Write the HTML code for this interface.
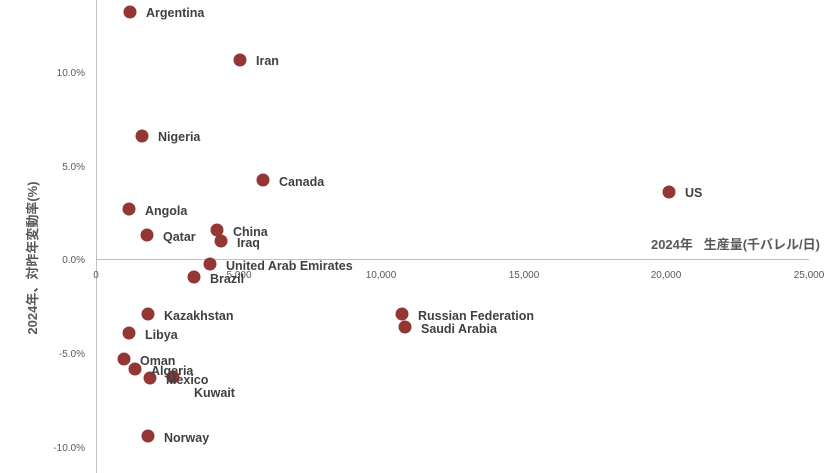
<!DOCTYPE html>
<html><head><meta charset="utf-8"><style>body{margin:0;background:#fff}svg{display:block}</style></head><body>
<svg width="833" height="473" xmlns="http://www.w3.org/2000/svg" font-family="Liberation Sans, Noto Sans CJK JP, sans-serif">
<line x1="96.5" y1="0" x2="96.5" y2="473" stroke="#bfbfbf"/>
<line x1="96" y1="259.5" x2="809" y2="259.5" stroke="#bfbfbf"/>
<g font-size="10" fill="#595959" text-anchor="end">
<text x="85" y="76">10.0%</text><text x="85" y="170">5.0%</text><text x="85" y="263">0.0%</text><text x="85" y="357">-5.0%</text><text x="85" y="451">-10.0%</text>
</g>
<g font-size="10" fill="#595959" text-anchor="middle">
<text x="96" y="278">0</text><text x="239" y="278">5,000</text><text x="381" y="278">10,000</text><text x="524" y="278">15,000</text><text x="666" y="278">20,000</text><text x="809" y="278">25,000</text>
</g>
<text x="820" y="249" font-size="13" font-weight="bold" fill="#595959" text-anchor="end" xml:space="preserve">2024年   生産量(千バレル/日)</text>
<text transform="translate(37,258) rotate(-90)" font-size="13" font-weight="bold" fill="#595959" text-anchor="middle">2024年、対昨年変動率(%)</text>
<g fill="#943634">
<circle cx="130" cy="12" r="6.5"/><circle cx="240" cy="60" r="6.5"/><circle cx="142" cy="136" r="6.5"/><circle cx="263" cy="180" r="6.5"/><circle cx="669" cy="192" r="6.5"/><circle cx="129" cy="209" r="6.5"/><circle cx="217" cy="230" r="6.5"/><circle cx="147" cy="235" r="6.5"/><circle cx="221" cy="241" r="6.5"/><circle cx="210" cy="264" r="6.5"/><circle cx="194" cy="277" r="6.5"/><circle cx="148" cy="314" r="6.5"/><circle cx="402" cy="314" r="6.5"/><circle cx="405" cy="327" r="6.5"/><circle cx="129" cy="333" r="6.5"/><circle cx="124" cy="359" r="6.5"/><circle cx="135" cy="369" r="6.5"/><circle cx="150" cy="378" r="6.5"/><circle cx="173" cy="377" r="6.5"/><circle cx="148" cy="436" r="6.5"/>
</g>
<g font-size="12.5" font-weight="bold" fill="#404040">
<text x="146" y="17">Argentina</text><text x="256" y="65">Iran</text><text x="158" y="141">Nigeria</text><text x="279" y="186">Canada</text><text x="685" y="197">US</text><text x="145" y="215">Angola</text><text x="233" y="236">China</text><text x="163" y="241">Qatar</text><text x="237" y="247">Iraq</text><text x="226" y="270">United Arab Emirates</text><text x="210" y="283">Brazil</text><text x="164" y="320">Kazakhstan</text><text x="418" y="320">Russian Federation</text><text x="421" y="333">Saudi Arabia</text><text x="145" y="339">Libya</text><text x="140" y="365">Oman</text><text x="151" y="375">Algeria</text><text x="166" y="384">Mexico</text><text x="194" y="397">Kuwait</text><text x="164" y="442">Norway</text>
</g>
</svg>
</body></html>
